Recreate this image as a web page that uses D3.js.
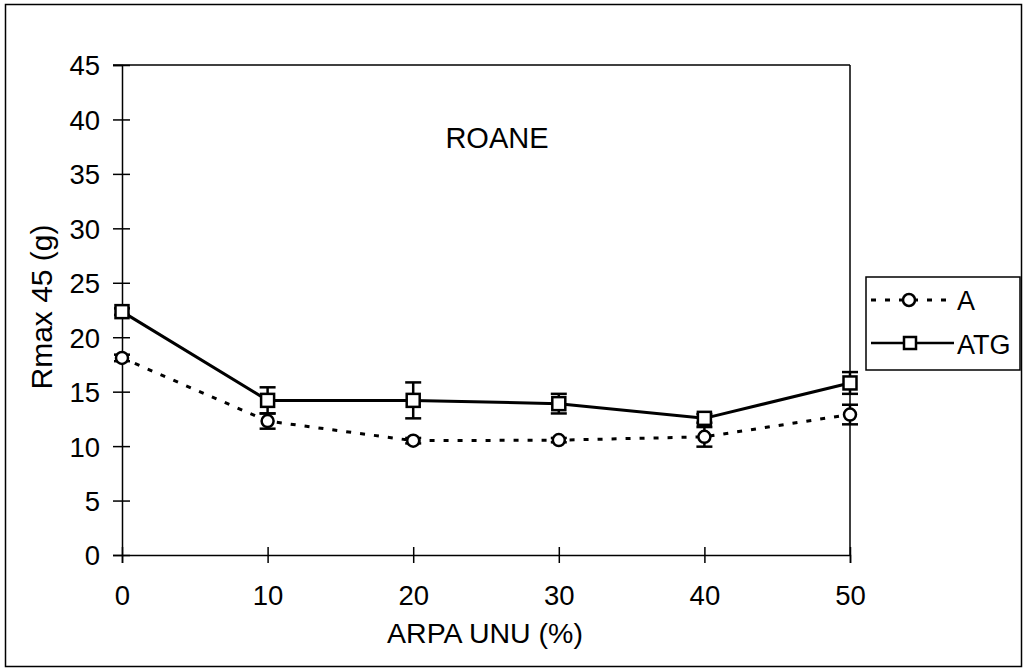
<!DOCTYPE html>
<html>
<head>
<meta charset="utf-8">
<script src="https://cdn.jsdelivr.net/npm/d3@7/dist/d3.min.js"></script>
<style>
  html, body { margin: 0; padding: 0; background: #fff; }
  svg { display: block; font-family: "Liberation Sans", Arial, sans-serif; }
</style>
</head>
<body>
<svg id="chart" width="1028" height="672"></svg>
<script>
// ---- data ----
const xValues = [0, 10, 20, 30, 40, 50];
const seriesA = [18.1, 12.3, 10.5, 10.55, 10.85, 12.9];
const seriesAErr = [0.3, 0.7, 0.25, 0.2, 0.9, 0.9];
const seriesATG = [22.35, 14.2, 14.2, 13.9, 12.55, 15.8];
const seriesATGErr = [0.3, 1.2, 1.65, 0.9, 0.4, 1.0];
const yTicks = [0, 5, 10, 15, 20, 25, 30, 35, 40, 45];
const xTicks = [0, 10, 20, 30, 40, 50];
const seriesNames = ["A", "ATG"];

const svg = d3.select("#chart");
const plotL = 122, plotR = 850, plotT = 65, plotB = 555;

// outer frame
svg.append("rect").attr("x", 5.5).attr("y", 4.5).attr("width", 1016).attr("height", 662)
  .attr("fill", "none").attr("stroke", "#000").attr("stroke-width", 1.5);

const x = d3.scaleLinear().domain([0, 50]).range([plotL, plotR]);
const y = d3.scaleLinear().domain([0, 45]).range([plotB, plotT]);

// plot frame (top and right)
svg.append("line").attr("x1", plotL - 9).attr("x2", plotR).attr("y1", plotT).attr("y2", plotT)
  .attr("stroke", "#000").attr("stroke-width", 1.5);
svg.append("line").attr("x1", plotR).attr("x2", plotR).attr("y1", plotT).attr("y2", plotB)
  .attr("stroke", "#000").attr("stroke-width", 1.5);

// y axis
const gy = svg.append("g").attr("transform", `translate(${plotL},0)`)
  .call(d3.axisLeft(y).tickValues(yTicks).tickSize(9).tickFormat(d3.format("d")));
gy.select(".domain").attr("stroke-width", 1.5);
gy.selectAll(".tick line").attr("x1", -9).attr("x2", 8).attr("stroke-width", 1.5);
gy.selectAll(".tick text").attr("x", -22).attr("dy", "0.36em")
  .attr("font-size", 27.5).attr("font-family", "Liberation Sans, Arial, sans-serif").attr("fill", "#000");

// x axis
const gx = svg.append("g").attr("transform", `translate(0,${plotB})`)
  .call(d3.axisBottom(x).tickValues(xTicks).tickSize(8).tickFormat(d3.format("d")));
gx.select(".domain").attr("stroke-width", 1.5);
gx.selectAll(".tick line").attr("y1", -8).attr("y2", 8).attr("stroke-width", 1.5);
gx.selectAll(".tick text").attr("y", 50).attr("dy", 0)
  .attr("font-size", 27.5).attr("font-family", "Liberation Sans, Arial, sans-serif").attr("fill", "#000");

// axis titles
svg.append("text").attr("x", 485).attr("y", 643).attr("text-anchor", "middle")
  .attr("font-size", 28.5).text("ARPA UNU (%)");
svg.append("text").attr("transform", "translate(52,307) rotate(-90)").attr("text-anchor", "middle")
  .attr("font-size", 30).text("Rmax 45 (g)");

// title
svg.append("text").attr("x", 497).attr("y", 148).attr("text-anchor", "middle")
  .attr("font-size", 29).text("ROANE");

const line = d3.line().x((d, i) => x(xValues[i])).y(d => y(d));

// lines
svg.append("path").datum(seriesA).attr("d", line).attr("fill", "none")
  .attr("stroke", "#000").attr("stroke-width", 3).attr("stroke-dasharray", "5,9");
svg.append("path").datum(seriesATG).attr("d", line).attr("fill", "none")
  .attr("stroke", "#000").attr("stroke-width", 3);

// error bars
function errorBars(vals, errs) {
  const g = svg.append("g").attr("stroke", "#000").attr("stroke-width", 2.5);
  vals.forEach((v, i) => {
    const cx = x(xValues[i]);
    g.append("line").attr("x1", cx).attr("x2", cx).attr("y1", y(v - errs[i])).attr("y2", y(v + errs[i]));
    [v - errs[i], v + errs[i]].forEach(e => {
      g.append("line").attr("x1", cx - 8).attr("x2", cx + 8).attr("y1", y(e)).attr("y2", y(e));
    });
  });
}
errorBars(seriesA, seriesAErr);
errorBars(seriesATG, seriesATGErr);

// markers
svg.append("g").selectAll("circle").data(seriesA).join("circle")
  .attr("cx", (d, i) => x(xValues[i])).attr("cy", d => y(d)).attr("r", 6)
  .attr("fill", "#fff").attr("stroke", "#000").attr("stroke-width", 2.5);
svg.append("g").selectAll("rect").data(seriesATG).join("rect")
  .attr("x", (d, i) => x(xValues[i]) - 6.5).attr("y", d => y(d) - 6.5)
  .attr("width", 13).attr("height", 13)
  .attr("fill", "#fff").attr("stroke", "#000").attr("stroke-width", 2.5);

// legend
const lg = svg.append("g");
lg.append("rect").attr("x", 866).attr("y", 277).attr("width", 154).attr("height", 93)
  .attr("fill", "#fff").attr("stroke", "#000").attr("stroke-width", 1.5);
// A
lg.append("line").attr("x1", 871).attr("x2", 954).attr("y1", 300).attr("y2", 300)
  .attr("stroke", "#000").attr("stroke-width", 3).attr("stroke-dasharray", "5,9");
lg.append("circle").attr("cx", 909).attr("cy", 300).attr("r", 6)
  .attr("fill", "#fff").attr("stroke", "#000").attr("stroke-width", 2.5);
lg.append("text").attr("x", 957).attr("y", 310).attr("font-size", 27).text(seriesNames[0]);
// ATG
lg.append("line").attr("x1", 871).attr("x2", 954).attr("y1", 343).attr("y2", 343)
  .attr("stroke", "#000").attr("stroke-width", 2.5);
lg.append("rect").attr("x", 904).attr("y", 337).attr("width", 12).attr("height", 12)
  .attr("fill", "#fff").attr("stroke", "#000").attr("stroke-width", 2.5);
lg.append("text").attr("x", 957).attr("y", 354).attr("font-size", 27).text(seriesNames[1]);
</script>
</body>
</html>
